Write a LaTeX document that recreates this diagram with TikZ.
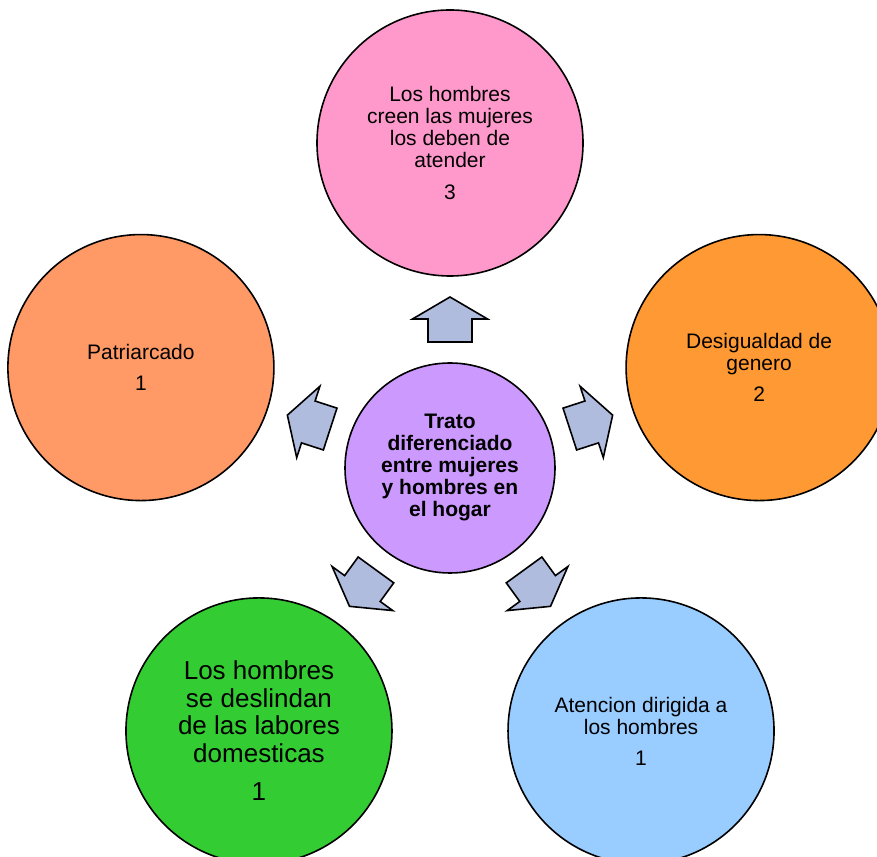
\documentclass[tikz,border=0pt]{standalone}
\usepackage{fontspec}
\setmainfont{Liberation Sans}
\usetikzlibrary{calc}
\definecolor{hubfill}{HTML}{CC99FF}
\definecolor{pinkfill}{HTML}{FF99CC}
\definecolor{salmonfill}{HTML}{FF9966}
\definecolor{orangefill}{HTML}{FF9933}
\definecolor{greenfill}{HTML}{33CC33}
\definecolor{bluefill}{HTML}{99CCFF}
\definecolor{arrowfill}{RGB}{176,188,222}
\begin{document}
\begin{tikzpicture}[x=1pt,y=1pt,
  bubble/.style={circle, draw=black, line width=1.6pt, minimum size=266pt,
    inner sep=0pt, align=center, text=black, font=\fontsize{21}{22}\selectfont},
  hub/.style={circle, draw=black, line width=1.6pt, minimum size=210pt,
    inner sep=0pt, align=center, text=black, fill=hubfill,
    font=\fontsize{21}{22}\selectfont\bfseries},
  blockarrow/.style={draw=black, line width=1.6pt, fill=arrowfill, line join=miter}]
\clip (0,0) rectangle (877,856);
\fill[white] (0,0) rectangle (877,856);
\coordinate (C) at (450,388);

% outward block arrows around the hub
\foreach \a in {90,18,162,234,306}{
  \begin{scope}[shift={(C)}, rotate=\a]
    \draw[blockarrow] (126,-22) -- (149,-22) -- (149,-37.5) -- (171,0)
      -- (149,37.5) -- (149,22) -- (126,22) -- cycle;
  \end{scope}
}

\node[hub] (hub) at (C) {Trato\\diferenciado\\entre mujeres\\y hombres en\\el hogar};

\node[bubble, fill=pinkfill] (atender) at ($(C)+(90:325)$)
  {Los hombres\\creen las mujeres\\los deben de\\atender\\[10pt]3};
\node[bubble, fill=salmonfill] (patriarcado) at ($(C)+(162:325)$)
  {Patriarcado\\[9pt]1};
\node[bubble, fill=orangefill] (desigualdad) at ($(C)+(18:325)$)
  {Desigualdad de\\genero\\[9pt]2};
\node[bubble, fill=greenfill, font=\fontsize{26}{27.5}\selectfont] (labores) at ($(C)+(234:325)$)
  {Los hombres\\se deslindan\\de las labores\\domesticas\\[11pt]1};
\node[bubble, fill=bluefill] (atencion) at ($(C)+(306:325)$)
  {Atencion dirigida a\\los hombres\\[9pt]1};
\end{tikzpicture}
\end{document}
